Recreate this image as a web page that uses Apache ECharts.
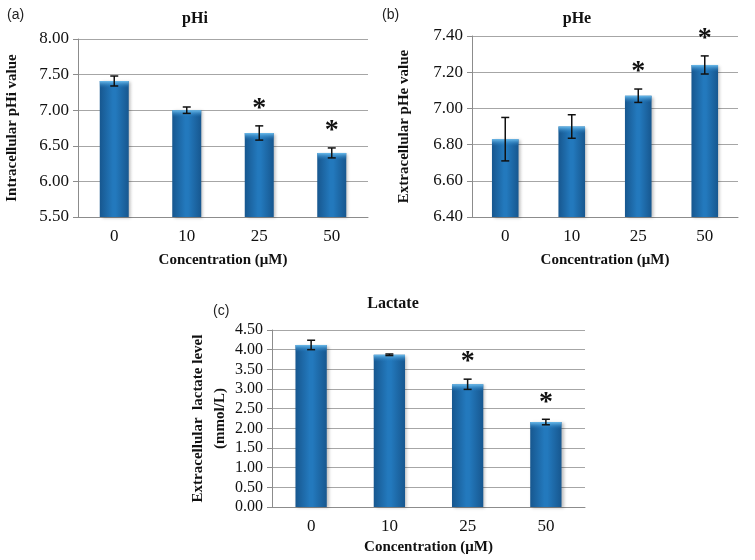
<!DOCTYPE html>
<html>
<head>
<meta charset="utf-8">
<script src="https://cdn.jsdelivr.net/npm/echarts@6/dist/echarts.min.js"></script>
<style>html,body{margin:0;padding:0;background:#fff}#c{width:755px;height:560px}</style>
</head>
<body>
<div id="c"></div>
<script>
const categories = ['0', '10', '25', '50'];
const pHi = [7.41, 7.00, 6.68, 6.40];
const pHiErr = [0.07, 0.045, 0.10, 0.07];
const pHe = [6.83, 6.90, 7.07, 7.24];
const pHeErr = [0.12, 0.065, 0.037, 0.05];
const lactate = [4.12, 3.87, 3.12, 2.16];
const lactateErr = [0.12, 0.02, 0.13, 0.07];
const signif = ['', '', '*', '*'];
const pHiTicks = {min: 5.5, max: 8.0, interval: 0.5};
const pHeTicks = {min: 6.4, max: 7.4, interval: 0.2};
const lactateTicks = {min: 0, max: 4.5, interval: 0.5};

const SERIF = "'Liberation Serif','Times New Roman',serif";
const chart = echarts.init(document.getElementById('c'), null, {renderer: 'canvas'});

const barColor = new echarts.graphic.LinearGradient(0, 0, 1, 0, [
  {offset: 0, color: '#17578f'},
  {offset: 0.45, color: '#2379bd'},
  {offset: 0.55, color: '#2379bd'},
  {offset: 1, color: '#17578f'}
]);

function yAxis(idx, name, t, gap, fs) {
  return {
    type: 'value', gridIndex: idx, min: t.min, max: t.max, interval: t.interval,
    name: name, nameLocation: 'middle', nameGap: gap,
    nameTextStyle: {fontFamily: SERIF, fontWeight: 'bold', fontSize: 15, color: '#111', lineHeight: 22},
    axisLine: {show: true, lineStyle: {color: '#8c8c8c', width: 1}},
    axisTick: {show: true, length: 5, lineStyle: {color: '#8c8c8c'}},
    splitLine: {show: true, lineStyle: {color: '#a6a6a6', width: 1}},
    axisLabel: {fontFamily: SERIF, fontSize: fs, color: '#111', margin: 9,
      formatter: v => v.toFixed(2)}
  };
}
function xAxis(idx, gap) {
  return {
    type: 'category', gridIndex: idx, data: categories,
    name: 'Concentration (μM)', nameLocation: 'middle', nameGap: gap,
    nameTextStyle: {fontFamily: SERIF, fontWeight: 'bold', fontSize: 15, color: '#111'},
    axisLine: {show: true, lineStyle: {color: '#8c8c8c'}},
    axisTick: {show: false},
    axisLabel: {fontFamily: SERIF, fontSize: 17, color: '#111', margin: 11}
  };
}
function barSeries(idx, vals) {
  return {
    type: 'bar', xAxisIndex: idx, yAxisIndex: idx, data: vals, barWidth: '40%',
    itemStyle: {color: barColor, shadowColor: 'rgba(0,0,0,0.25)', shadowBlur: 3, shadowOffsetX: 2, shadowOffsetY: 1},
    z: 2
  };
}
function errSeries(idx, vals, errs) {
  return {
    type: 'custom', xAxisIndex: idx, yAxisIndex: idx, z: 5,
    data: vals.map((v, i) => [i, v, errs[i]]),
    renderItem: function (params, api) {
      const i = api.value(0), v = api.value(1), e = api.value(2);
      const base = api.coord([i, v]);
      const hi = api.coord([i, v + e]);
      const lo = api.coord([i, v - e]);
      const band = api.size([1, 0])[0];
      const bw = band * 0.4;
      const cap = 4;
      const ls = {stroke: '#111', lineWidth: 1.5};
      const children = [
        {type: 'rect', shape: {x: base[0] - bw / 2, y: base[1], width: bw, height: 7},
          style: {fill: new echarts.graphic.LinearGradient(0, 0, 0, 1, [
            {offset: 0, color: '#6cbcec'}, {offset: 1, color: 'rgba(35,121,189,0)'}])}},
        {type: 'line', shape: {x1: hi[0], y1: hi[1], x2: lo[0], y2: lo[1]}, style: ls},
        {type: 'line', shape: {x1: hi[0] - cap, y1: hi[1], x2: hi[0] + cap, y2: hi[1]}, style: ls},
        {type: 'line', shape: {x1: lo[0] - cap, y1: lo[1], x2: lo[0] + cap, y2: lo[1]}, style: ls}
      ];
      const s = signif[params.dataIndex];
      if (s) {
        children.push({type: 'text', x: hi[0], y: hi[1] - 17,
          style: {text: s, fontFamily: SERIF, fontWeight: 'bold', fontSize: 28, fill: '#111',
            align: 'center', verticalAlign: 'middle'}});
      }
      return {type: 'group', children: children};
    }
  };
}

const option = {
  backgroundColor: '#fff',
  animation: false,
  title: [
    {text: 'pHi', left: 190, top: 6, textAlign: 'center', textStyle: {fontFamily: SERIF, fontWeight: 'bold', fontSize: 16, color: '#111'}},
    {text: 'pHe', left: 572, top: 6, textAlign: 'center', textStyle: {fontFamily: SERIF, fontWeight: 'bold', fontSize: 16, color: '#111'}},
    {text: 'Lactate', left: 388, top: 291, textAlign: 'center', textStyle: {fontFamily: SERIF, fontWeight: 'bold', fontSize: 16, color: '#111'}},
    {text: '(a)', left: 2, top: 3, textStyle: {fontFamily: "'Liberation Sans',Arial,sans-serif", fontWeight: 'normal', fontSize: 14, color: '#222'}},
    {text: '(b)', left: 377, top: 3, textStyle: {fontFamily: "'Liberation Sans',Arial,sans-serif", fontWeight: 'normal', fontSize: 14, color: '#222'}},
    {text: '(c)', left: 208, top: 299, textStyle: {fontFamily: "'Liberation Sans',Arial,sans-serif", fontWeight: 'normal', fontSize: 14, color: '#222'}}
  ],
  grid: [
    {left: 76, right: 387, top: 39, bottom: 343, containLabel: false},
    {left: 472, right: 17, top: 36, bottom: 343, containLabel: false},
    {left: 272, right: 170, top: 330, bottom: 53, containLabel: false}
  ],
  xAxis: [xAxis(0, 36), xAxis(1, 36), xAxis(2, 33)],
  yAxis: [
    yAxis(0, 'Intracellular pHi value', pHiTicks, 55, 17),
    yAxis(1, 'Extracellular pHe value', pHeTicks, 57, 17),
    yAxis(2, 'Extracellular  lactate level\n(mmol/L)', lactateTicks, 38, 16)
  ],
  series: [
    barSeries(0, pHi), errSeries(0, pHi, pHiErr),
    barSeries(1, pHe), errSeries(1, pHe, pHeErr),
    barSeries(2, lactate), errSeries(2, lactate, lactateErr)
  ]
};
chart.setOption(option);
</script>
</body>
</html>
